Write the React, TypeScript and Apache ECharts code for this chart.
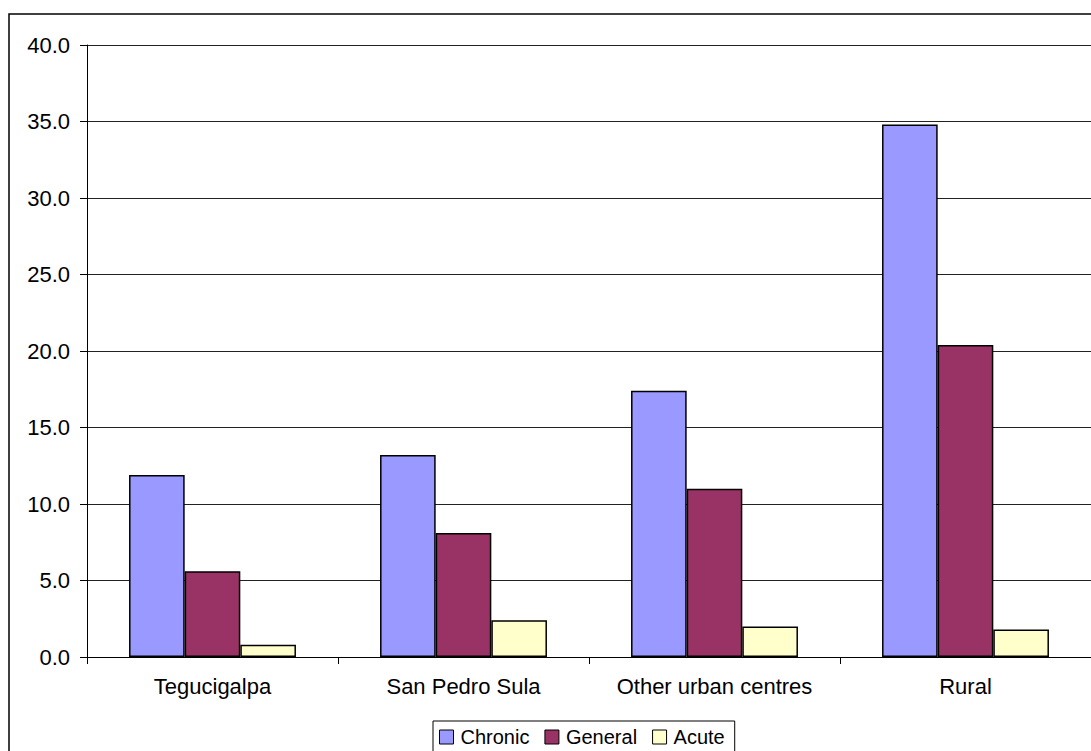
import React, { useEffect, useRef } from "react";
import * as echarts from "echarts";

// Regions and prevalence values (percent) for each severity group
const categories = ["Tegucigalpa", "San Pedro Sula", "Other urban centres", "Rural"];
const chronic = [11.9, 13.2, 17.4, 34.8];
const general = [5.6, 8.1, 11.0, 20.4];
const acute = [0.8, 2.4, 2.0, 1.8];

const seriesNames = ["Chronic", "General", "Acute"];
const seriesColors = ["#9999FF", "#993366", "#FFFFCC"];

const FONT = "'Liberation Sans', Arial, sans-serif";

export default function App() {
  const ref = useRef<HTMLDivElement>(null);

  useEffect(() => {
    if (!ref.current) return;
    const chart = echarts.init(ref.current, undefined, { renderer: "svg" });
    const values = [chronic, general, acute];

    chart.setOption({
      animation: false,
      backgroundColor: "#ffffff",
      textStyle: { fontFamily: FONT, color: "#000" },
      graphic: [
        {
          type: "rect",
          shape: { x: 9, y: 14, width: 1200, height: 900 },
          style: { fill: "none", stroke: "#000", lineWidth: 1.5 },
          silent: true,
          z: 100,
        },
      ],
      grid: { left: 87, top: 45, right: 0, bottom: 94, containLabel: false },
      legend: {
        data: seriesNames,
        left: 433,
        top: 721,
        orient: "horizontal",
        icon: "rect",
        itemWidth: 14,
        itemHeight: 14,
        itemGap: 15,
        padding: [6, 10, 6, 6],
        borderColor: "#000",
        borderWidth: 1,
        backgroundColor: "#fff",
        itemStyle: { borderColor: "#000", borderWidth: 1 },
        textStyle: {
          fontFamily: FONT,
          fontSize: 20,
          color: "#000",
          padding: [0, 0, 0, 2],
        },
      },
      xAxis: {
        type: "category",
        data: categories,
        axisLine: { show: true, lineStyle: { color: "#000", width: 1 } },
        axisTick: {
          show: true,
          length: 7,
          interval: 0,
          alignWithLabel: false,
          lineStyle: { color: "#000" },
        },
        axisLabel: {
          fontFamily: FONT,
          fontSize: 22,
          color: "#000",
          margin: 18,
          interval: 0,
          hideOverlap: false,
        },
        splitLine: { show: false },
      },
      yAxis: {
        type: "value",
        min: 0,
        max: 40,
        interval: 5,
        axisLine: { show: true, lineStyle: { color: "#000", width: 1 } },
        axisTick: { show: true, length: 7, lineStyle: { color: "#000" } },
        axisLabel: {
          fontFamily: FONT,
          fontSize: 22,
          color: "#000",
          margin: 17,
          formatter: (v: number) => v.toFixed(1),
        },
        splitLine: { show: true, lineStyle: { color: "#222", width: 1 } },
      },
      series: seriesNames.map((name, i) => ({
        name,
        type: "bar",
        data: values[i],
        barGap: "0%",
        barCategoryGap: "33.5%",
        itemStyle: { color: seriesColors[i], borderColor: "#000", borderWidth: 1.5 },
      })),
    });

    return () => chart.dispose();
  }, []);

  return (
    <div
      ref={ref}
      style={{ position: "fixed", left: 0, top: 0, width: 1091, height: 751 }}
    />
  );
}
